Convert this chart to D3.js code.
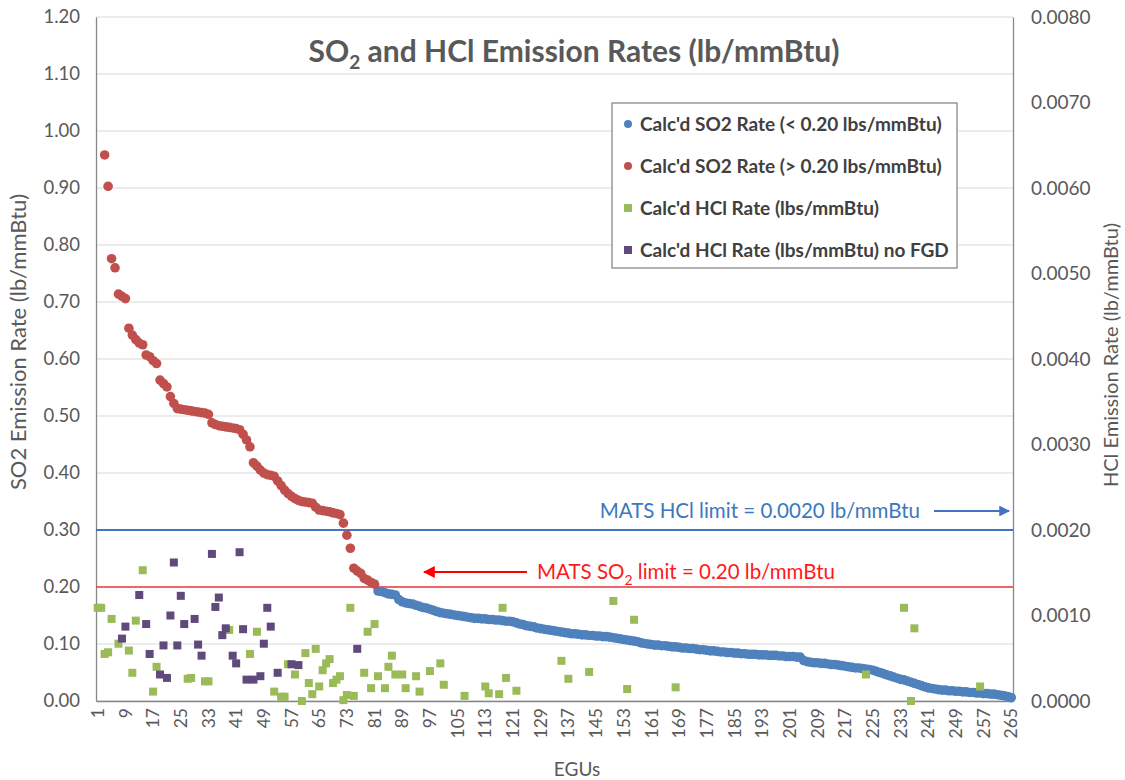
<!DOCTYPE html>
<html><head><meta charset="utf-8">
<script src="https://cdn.jsdelivr.net/npm/d3@7"></script>
<style>
body{margin:0;background:#fff;}
svg{font-family:Lato,"Open Sans",sans-serif;}
</style></head>
<body><svg id="chart" width="1125" height="780"></svg>
<script>
// ---------- DATA ----------
const egus = d3.range(1, 266);               // EGU categories 1..265
const xTickLabels = d3.range(1, 266, 8);     // 1, 9, 17, ... 265
const leftTicks = [0,0.1,0.2,0.3,0.4,0.5,0.6,0.7,0.8,0.9,1.0,1.1,1.2];
const rightTicks = [0,0.001,0.002,0.003,0.004,0.005,0.006,0.007,0.008];
const so2Start = 3;  // first EGU with an SO2 value
// SO2 rate (lb/mmBtu), EGU 3..265, sorted descending
const so2Values = [
 0.958,0.903,0.776,0.760,0.714,0.710,0.706,0.654,0.642,0.634,
 0.628,0.625,0.607,0.604,0.597,0.592,0.563,0.557,0.551,0.534,
 0.522,0.513,0.512,0.511,0.510,0.509,0.508,0.507,0.506,0.505,
 0.503,0.488,0.485,0.483,0.482,0.481,0.480,0.479,0.478,0.476,
 0.468,0.458,0.446,0.418,0.412,0.405,0.400,0.397,0.396,0.394,
 0.386,0.378,0.370,0.364,0.359,0.355,0.352,0.350,0.349,0.348,
 0.347,0.340,0.335,0.334,0.333,0.332,0.330,0.329,0.327,0.312,
 0.291,0.268,0.233,0.228,0.224,0.215,0.212,0.208,0.205,
 0.193,0.192,0.190,0.188,0.187,0.186,0.178,0.174,0.172,0.171,
 0.170,0.168,0.166,0.164,0.163,0.161,0.159,0.157,0.155,0.154,
 0.153,0.152,0.151,0.150,0.149,0.148,0.147,0.146,0.145,0.145,
 0.144,0.144,0.143,0.143,0.142,0.142,0.141,0.140,0.140,0.139,
 0.137,0.135,0.134,0.132,0.131,0.130,0.128,0.127,0.126,0.125,
 0.124,0.123,0.122,0.121,0.120,0.119,0.118,0.118,0.117,0.116,
 0.116,0.115,0.115,0.114,0.114,0.113,0.113,0.112,0.111,0.110,
 0.109,0.108,0.107,0.106,0.105,0.104,0.102,0.101,0.100,0.099,
 0.098,0.098,0.097,0.097,0.096,0.095,0.095,0.094,0.093,0.093,
 0.092,0.092,0.091,0.090,0.090,0.089,0.088,0.088,0.087,0.086,
 0.086,0.085,0.085,0.084,0.084,0.083,0.083,0.082,0.082,0.082,
 0.081,0.081,0.081,0.080,0.080,0.080,0.079,0.079,0.078,0.078,
 0.078,0.077,0.077,0.071,0.069,0.068,0.067,0.067,0.066,0.066,
 0.065,0.064,0.064,0.063,0.062,0.061,0.060,0.059,0.058,0.058,
 0.057,0.056,0.055,0.054,0.052,0.050,0.048,0.046,0.044,0.042,
 0.040,0.038,0.037,0.035,0.033,0.031,0.029,0.027,0.025,0.023,
 0.022,0.021,0.020,0.019,0.019,0.018,0.018,0.017,0.017,0.016,
 0.016,0.015,0.015,0.014,0.014,0.013,0.013,0.012,0.012,0.011,
 0.010,0.009,0.008,0.006
];
const so2Limit = 0.20;
const hclLimit = 0.0020;
// HCl rate (lb/mmBtu): EGU numbers and values
const hclEgus = [1,2,3,4,5,7,10,11,12,14,17,18,27,28,32,33,39,45,47,52,54,55,56,58,60,61,62,63,64,65,66,67,68,69,70,71,72,73,74,75,78,79,80,81,82,84,85,86,87,89,90,93,94,97,100,101,107,113,114,117,118,119,122,135,137,143,150,154,156,168,223,234,236,237,256];
const hclValues = [0.00109,0.00109,0.00055,0.00057,0.00096,0.00067,0.00059,0.00033,0.00094,0.00153,0.00011,0.00040,0.00026,0.00027,0.00023,0.00023,0.00083,0.00055,0.00081,0.00011,0.00005,0.00005,0.00043,0.00031,0.00000,0.00056,0.00021,0.00008,0.00061,0.00017,0.00036,0.00044,0.00049,0.00021,0.00025,0.00029,0.00001,0.00007,0.00109,0.00006,0.00033,0.00081,0.00015,0.00090,0.00029,0.00015,0.00040,0.00053,0.00031,0.00031,0.00015,0.00029,0.00011,0.00035,0.00044,0.00019,0.00006,0.00017,0.00009,0.00008,0.00109,0.00027,0.00012,0.00047,0.00026,0.00034,0.00117,0.00014,0.00095,0.00016,0.00031,0.00109,0.00000,0.00085,0.00017];
// HCl rate, units without FGD
const noFgdEgus = [8,9,13,15,16,19,20,21,22,23,24,25,26,29,30,31,34,35,36,37,38,40,41,42,43,44,46,48,49,50,51,53,57,59,76];
const noFgdValues = [0.00073,0.00087,0.00124,0.00090,0.00055,0.00031,0.00065,0.00027,0.00100,0.00162,0.00065,0.00123,0.00090,0.00096,0.00066,0.00053,0.00172,0.00110,0.00121,0.00077,0.00085,0.00053,0.00044,0.00174,0.00084,0.00025,0.00025,0.00029,0.00067,0.00109,0.00087,0.00033,0.00043,0.00042,0.00061];
const legendLabels = ["Calc'd SO2 Rate (< 0.20 lbs/mmBtu)","Calc'd SO2 Rate (> 0.20 lbs/mmBtu)","Calc'd HCl Rate (lbs/mmBtu)","Calc'd HCl Rate (lbs/mmBtu) no FGD"];

// ---------- LAYOUT ----------
const svg = d3.select("#chart");
const L = 96, R = 1013, T = 17, B = 701;
const x = d3.scaleBand().domain(egus).range([L, R]).padding(0);
const xc = d => x(d) + x.bandwidth() / 2;
const yL = d3.scaleLinear().domain([0, 1.2]).range([B, T]);
const yR = d3.scaleLinear().domain([0, 0.008]).range([B, T]);
const colors = {blue:"#4f81bd", red:"#c0504d", green:"#9bbb59", purple:"#604a7b"};
const textCol = "#595959";

// gridlines
svg.append("g").selectAll("line").data(leftTicks).join("line")
  .attr("x1", L).attr("x2", R).attr("y1", d => yL(d)).attr("y2", d => yL(d))
  .attr("stroke", "#d9d9d9").attr("stroke-width", 1);

// axes
const axL = svg.append("g").attr("transform", `translate(${L},0)`)
  .call(d3.axisLeft(yL).tickValues(leftTicks).tickFormat(d3.format(".2f")).tickSize(0).tickPadding(16));
const axR = svg.append("g").attr("transform", `translate(${R},0)`)
  .call(d3.axisRight(yR).tickValues(rightTicks).tickFormat(d3.format(".4f")).tickSize(0).tickPadding(18));
const axB = svg.append("g").attr("transform", `translate(0,${B})`)
  .call(d3.axisBottom(x).tickValues(xTickLabels).tickSize(0));
axB.selectAll("text").attr("transform", "rotate(-90)").attr("x", -7).attr("y", 0).attr("dy", "0.35em")
  .style("text-anchor", "end");
[axL, axR, axB].forEach(a => {
  a.selectAll("text").style("font-family", "Lato").attr("fill", textCol);
  a.select(".domain").attr("stroke", "#878787").attr("stroke-width", 1.3);
});
axL.selectAll("text").style("font-size", "18.5px");
axR.selectAll("text").style("font-size", "19px");
axB.selectAll("text").style("font-size", "17.5px");

// limit lines
svg.append("line").attr("x1", L).attr("x2", R).attr("y1", yR(hclLimit)).attr("y2", yR(hclLimit))
  .attr("stroke", "#4472c4").attr("stroke-width", 2);
svg.append("line").attr("x1", L).attr("x2", R).attr("y1", yL(so2Limit)).attr("y2", yL(so2Limit))
  .attr("stroke", "#f03a3a").attr("stroke-width", 1.5);

// SO2 points
const so2Data = so2Values.map((v, i) => ({egu: so2Start + i, v}));
const low = so2Data.filter(d => d.v <= so2Limit), high = so2Data.filter(d => d.v > so2Limit);
svg.append("g").selectAll("circle").data(low).join("circle")
  .attr("cx", d => xc(d.egu)).attr("cy", d => yL(d.v)).attr("r", 4.8).attr("fill", colors.blue);
svg.append("g").selectAll("circle").data(high).join("circle")
  .attr("cx", d => xc(d.egu)).attr("cy", d => yL(d.v)).attr("r", 4.8).attr("fill", colors.red);
// HCl squares
const sq = 8;
svg.append("g").selectAll("rect").data(hclEgus.map((e, i) => ({egu: e, v: hclValues[i]}))).join("rect")
  .attr("x", d => xc(d.egu) - sq / 2).attr("y", d => yR(d.v) - sq / 2).attr("width", sq).attr("height", sq)
  .attr("fill", colors.green);
svg.append("g").selectAll("rect").data(noFgdEgus.map((e, i) => ({egu: e, v: noFgdValues[i]}))).join("rect")
  .attr("x", d => xc(d.egu) - sq / 2).attr("y", d => yR(d.v) - sq / 2).attr("width", sq).attr("height", sq)
  .attr("fill", colors.purple);

// title
const title = svg.append("text").attr("x", 574).attr("y", 62).attr("text-anchor", "middle")
  .attr("fill", textCol).style("font-size", "30px").style("font-weight", "bold");
title.append("tspan").text("SO");
title.append("tspan").text("2").attr("dy", 7).style("font-size", "19px");
title.append("tspan").text(" and HCl Emission Rates (lb/mmBtu)").attr("dy", -7);

// axis titles
svg.append("text").attr("transform", "translate(26,342) rotate(-90)").attr("text-anchor", "middle")
  .attr("fill", textCol).style("font-size", "22px").text("SO2 Emission Rate (lb/mmBtu)");
svg.append("text").attr("transform", "translate(1118,355) rotate(-90)").attr("text-anchor", "middle")
  .attr("fill", textCol).style("font-size", "20px").text("HCl Emission Rate (lb/mmBtu)");
svg.append("text").attr("x", 577).attr("y", 776).attr("text-anchor", "middle")
  .attr("fill", textCol).style("font-size", "19px").text("EGUs");

// annotations
const defs = svg.append("defs");
[["arrBlue", "#4472c4"], ["arrRed", "#ff0000"]].forEach(([id, c]) => {
  defs.append("marker").attr("id", id).attr("viewBox", "0 0 10 10").attr("refX", 9).attr("refY", 5)
    .attr("markerWidth", 6).attr("markerHeight", 6).attr("orient", "auto")
    .append("path").attr("d", "M0,0 L10,5 L0,10 z").attr("fill", c);
});
svg.append("text").attr("x", 920).attr("y", 518).attr("text-anchor", "end").attr("fill", "#3c78c0")
  .style("font-size", "20.5px").text("MATS HCl limit = 0.0020 lb/mmBtu");
svg.append("line").attr("x1", 934).attr("x2", 1009).attr("y1", 511).attr("y2", 511)
  .attr("stroke", "#4472c4").attr("stroke-width", 1.8).attr("marker-end", "url(#arrBlue)");
const so2Ann = svg.append("text").attr("x", 537).attr("y", 579).attr("fill", "#ff1a1a").style("font-size", "20.5px");
so2Ann.append("tspan").text("MATS SO");
so2Ann.append("tspan").text("2").attr("dy", 6).style("font-size", "14px");
so2Ann.append("tspan").text(" limit = 0.20 lb/mmBtu").attr("dy", -6);
svg.append("line").attr("x1", 527).attr("x2", 424).attr("y1", 572).attr("y2", 572)
  .attr("stroke", "#ff0000").attr("stroke-width", 2).attr("marker-end", "url(#arrRed)");

// legend
const lg = svg.append("g");
lg.append("rect").attr("x", 612).attr("y", 103).attr("width", 345).attr("height", 165)
  .attr("fill", "#fff").attr("stroke", "#7f7f7f").attr("stroke-width", 1.2);
const legendColors = [colors.blue, colors.red, colors.green, colors.purple];
legendLabels.forEach((lab, i) => {
  const yy = 124 + i * 42;
  if (i < 2) lg.append("circle").attr("cx", 628).attr("cy", yy).attr("r", 4).attr("fill", legendColors[i]);
  else lg.append("rect").attr("x", 624).attr("y", yy - 4).attr("width", 8).attr("height", 8).attr("fill", legendColors[i]);
  lg.append("text").attr("x", 640).attr("y", yy).attr("dy", "0.35em").attr("fill", "#404040")
    .style("font-size", "19px").style("font-weight", "bold").text(lab);
});
</script></body></html>
